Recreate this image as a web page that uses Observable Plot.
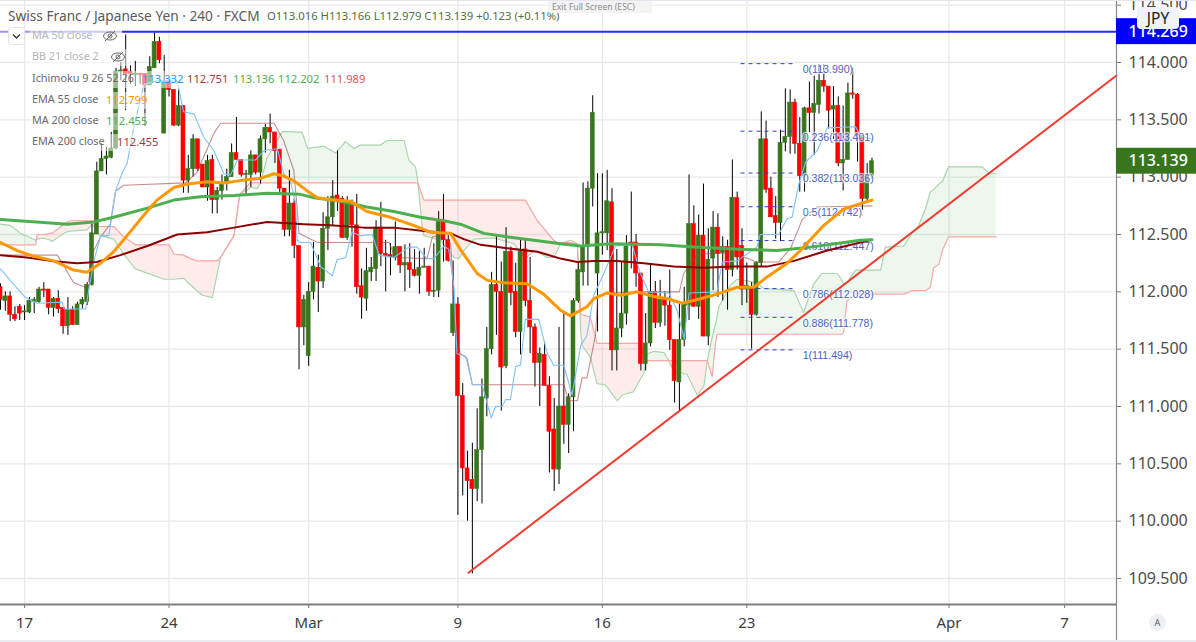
<!DOCTYPE html>
<html><head><meta charset="utf-8">
<script src="https://cdn.jsdelivr.net/npm/d3@7"></script>
<script src="https://cdn.jsdelivr.net/npm/@observablehq/plot@0.6"></script>
<style>
html,body{margin:0;padding:0;background:#fff;overflow:hidden}
#wrap{position:relative;width:1196px;height:642px;font-family:"Noto Sans",sans-serif}
#wrap svg{display:block}
.o{position:absolute;white-space:nowrap;line-height:1}
</style></head><body><div id="wrap"><div id="chart"></div></div>
<script>
// candles, one per 4 hours, indexed from the left edge of the picture
const opens=[112.04,111.92,111.96,111.80,111.87,111.82,111.82,111.91,111.91,112.02,
112.02,111.86,111.94,111.86,111.70,111.84,111.71,111.89,111.91,112.06,
112.50,113.05,113.16,113.17,113.25,113.92,113.94,113.92,113.89,113.90,
113.90,113.80,113.95,114.18,113.38,113.84,113.76,113.45,113.62,112.97,
113.07,113.33,113.11,112.91,113.15,112.80,112.88,112.94,113.00,113.21,
113.15,113.02,113.02,113.19,113.04,113.33,113.43,113.39,113.24,112.90,
112.54,112.77,112.40,111.69,111.44,112.00,112.21,112.09,112.55,112.65,
112.84,112.81,112.47,112.76,112.58,112.05,111.94,112.17,112.20,112.56,
112.33,112.32,112.30,112.39,112.23,112.25,112.19,112.14,112.21,112.22,
112.00,112.01,112.61,112.45,111.64,111.89,111.09,110.46,110.36,110.28,
110.62,111.07,111.50,112.06,112.00,111.35,112.35,112.00,111.65,112.37,
111.92,111.69,111.38,111.45,111.18,110.80,110.45,111.00,110.84,111.08,
111.92,112.17,112.39,112.90,112.16,112.51,112.51,112.78,111.49,111.68,
111.81,112.43,112.43,112.16,111.37,111.55,112.00,111.73,111.93,111.88,
111.58,111.21,111.58,111.88,112.59,111.87,112.49,111.61,112.29,112.56,
112.34,112.39,112.19,112.82,112.40,112.02,112.04,111.80,112.25,113.33,
112.90,112.66,112.60,113.30,113.35,113.65,113.29,113.01,113.60,113.56,
113.63,113.84,113.79,113.59,113.62,113.12,113.15,113.73,113.72,113.36,
112.81,113.016];
const closes=[111.93,111.96,111.80,111.76,111.81,111.83,111.92,111.93,112.02,112.01,
111.86,111.94,111.85,111.70,111.84,111.71,111.89,111.93,112.06,112.51,
113.05,113.16,113.18,113.25,113.92,113.93,113.90,113.90,113.90,113.89,
113.80,113.96,114.18,114.02,113.84,113.76,113.45,113.62,112.97,113.07,
113.33,113.07,112.91,113.14,112.80,112.88,112.94,113.00,113.21,113.15,
113.02,113.03,113.19,113.04,113.33,113.43,113.39,113.23,112.90,112.54,
112.77,112.40,111.69,111.93,112.00,112.22,112.09,112.55,112.65,112.83,
112.81,112.47,112.78,112.58,112.04,111.95,112.18,112.21,112.56,112.33,
112.31,112.30,112.39,112.23,112.25,112.19,112.14,112.21,112.22,112.00,
112.01,112.61,112.45,112.27,111.89,111.09,110.46,110.35,110.28,110.62,
111.08,111.50,112.06,112.00,111.34,112.35,111.99,111.65,112.35,111.92,
111.69,111.38,111.46,111.18,110.78,110.45,111.00,110.84,111.08,111.92,
112.19,112.39,112.90,113.56,112.51,112.52,112.79,111.49,111.68,111.81,
112.41,112.42,112.16,111.37,111.55,112.00,111.73,111.93,111.88,111.58,
111.22,111.58,111.89,112.59,111.87,112.49,111.61,112.28,112.56,112.33,
112.39,112.19,112.82,112.30,112.02,112.05,111.80,112.25,113.33,112.89,
112.65,112.60,113.30,113.35,113.65,113.29,113.01,113.60,113.56,113.64,
113.84,113.79,113.58,113.62,113.12,113.15,113.73,113.72,113.36,112.81,
113.02,113.139];
const highs=[112.07,112.00,112.00,111.87,111.89,111.88,111.95,111.95,112.04,112.08,
112.02,111.95,112.01,111.86,111.95,111.87,111.91,111.95,112.08,112.59,
113.13,113.29,113.26,113.39,113.95,114.00,114.24,113.97,114.01,113.90,
113.90,114.05,114.27,114.22,114.06,113.84,113.76,113.76,113.62,113.19,
113.37,113.33,113.11,113.19,113.19,112.91,113.02,113.07,113.29,113.52,
113.15,113.06,113.23,113.19,113.36,113.46,113.55,113.39,113.24,112.90,
113.06,112.81,112.40,111.97,112.08,112.43,112.32,112.69,112.83,112.97,
113.23,112.83,112.83,112.80,112.85,112.20,112.38,112.30,112.62,112.78,
112.45,112.42,112.61,112.39,112.41,112.42,112.37,112.35,112.38,112.22,
112.42,112.70,112.85,112.49,112.27,111.95,111.20,110.61,110.68,110.98,
111.24,111.69,112.17,112.48,112.26,112.56,112.39,112.25,112.46,112.46,
112.30,111.72,111.51,111.56,111.26,111.07,111.69,111.82,111.11,111.94,
112.25,112.95,112.96,113.71,113.03,113.03,113.06,112.90,112.37,112.26,
112.49,112.87,112.50,112.16,111.81,112.24,112.09,112.10,112.00,112.19,
111.58,111.91,112.04,113.02,112.75,112.67,112.94,112.55,112.70,112.68,
112.48,112.45,113.15,112.87,112.55,112.25,112.08,112.26,113.57,113.49,
113.00,112.83,113.41,113.77,113.76,113.68,113.52,113.61,113.83,113.88,
113.98,113.98,113.79,113.79,113.70,113.62,113.82,113.95,113.73,113.36,
113.12,113.166];
const lows=[111.84,111.83,111.74,111.74,111.75,111.75,111.81,111.81,111.90,111.95,
111.80,111.78,111.81,111.63,111.62,111.71,111.71,111.85,111.88,112.05,
112.50,113.05,113.02,113.16,113.24,113.84,113.58,113.81,113.79,113.81,
113.44,113.80,113.95,113.99,113.38,113.70,113.44,113.44,112.86,112.86,
113.00,113.05,112.91,112.79,112.68,112.68,112.80,112.88,113.00,113.15,
113.00,112.83,112.91,113.02,112.94,113.21,113.29,113.12,112.84,112.48,
112.48,112.29,111.32,111.53,111.35,111.93,111.82,112.03,112.36,112.58,
112.70,112.47,112.45,112.39,111.98,111.76,111.83,112.09,112.09,112.22,
112.00,112.14,112.27,112.16,112.00,112.03,112.13,111.98,112.21,111.96,
111.95,111.95,112.26,112.26,111.61,110.05,110.22,110.00,109.54,110.17,
110.15,110.91,111.45,111.62,110.96,111.33,111.88,111.60,111.45,111.87,
111.46,111.17,111.00,111.18,110.42,110.26,110.32,110.67,110.59,110.78,
111.90,112.05,112.05,112.74,111.65,112.32,112.36,111.31,111.31,111.60,
111.71,112.20,112.04,111.31,111.31,111.52,111.68,111.69,111.70,111.49,
111.03,110.96,111.52,111.75,111.87,111.76,111.61,111.53,112.01,111.95,
111.92,111.84,112.13,112.19,111.88,111.90,111.50,111.79,112.22,112.86,
112.65,112.46,112.44,113.22,113.20,113.20,112.87,112.87,113.39,113.19,
113.55,113.74,113.42,113.33,113.09,112.88,113.15,113.68,113.13,112.71,
112.78,112.979];

// MA 200
const ma200K=[0,10.4,13.8,19.4,23.5,30.5,36,41.5,48.5,55.4,62.3,65.1,70.6,76.1,81.7,87.2,92.1,95.5,100.4,105.2,110.8,116.3,120.5,126.7,137.1,144,154.4,161.3,168.2,178.6,181];
const ma200P=[112.63,112.60,112.59,112.61,112.65,112.73,112.80,112.83,112.84,112.86,112.85,112.82,112.79,112.74,112.70,112.65,112.62,112.59,112.51,112.48,112.45,112.42,112.40,112.42,112.41,112.39,112.37,112.36,112.39,112.45,112.455];
// EMA 200
const ema200K=[0,5.5,10.4,15.9,20,24.9,30.5,36.7,42.9,48.5,55.4,63,68.5,75.5,81.7,87.9,93.5,96.2,99.7,105.2,111.5,116.3,119.8,123.2,128.1,133.6,139.8,146,152.3,159.2,164.8,171.7,178.6,181];
const ema200P=[112.32,112.30,112.27,112.25,112.26,112.32,112.40,112.50,112.52,112.56,112.61,112.59,112.58,112.56,112.56,112.53,112.51,112.46,112.41,112.38,112.35,112.29,112.26,112.27,112.27,112.25,112.22,112.21,112.22,112.22,112.27,112.36,112.43,112.455];
// EMA 55
const ema55K=[0,3.5,6.9,11.1,15.2,17.9,20.8,23.5,26.3,29.8,32.5,36,38.8,42.9,46.4,49.8,54,56.8,58.8,60.9,63.7,65.8,69.2,72.7,76.1,81,85.8,89.3,93.5,95.5,99,101.1,104.5,109.4,112.8,116.3,118.4,121.8,123.2,126,128.8,132.2,135.7,138.5,141.6,145.4,148.8,153,156.5,159.2,163.4,166.1,171,175.1,178.6,181];
const ema55P=[112.43,112.36,112.31,112.27,112.19,112.17,112.25,112.35,112.49,112.67,112.80,112.91,112.94,112.96,112.95,112.97,112.99,113.03,113.01,112.97,112.88,112.82,112.80,112.79,112.70,112.65,112.58,112.52,112.51,112.37,112.16,112.10,112.08,112.07,111.98,111.84,111.79,111.87,111.94,111.99,111.97,112.00,111.96,111.94,111.90,111.94,111.98,112.04,112.04,112.13,112.25,112.36,112.58,112.72,112.77,112.80];
// Ichimoku conversion line
const convK=[0,2.8,5.2,7.6,12.8,13.2,17.7,18.3,19.4,20.8,22.5,23.9,25.3,26.3,27.7,29.8,32.5,36.7,38,40.2,42.2,44.3,46.4,47.8,49.2,53,54.7,57.5,58.8,60.2,61.3,61.6,62.3,64.4,66.5,68.9,69.9,71.7,73,74.8,77.2,78.6,81.7,84.8,86.5,88.6,90,92.1,93.1,94.2,94.8,96.6,98,100,101.9,102.8,104.2,104.9,105.9,107,108,109,111.8,113.5,114.9,117,118.7,120.5,121.8,123.2,125.3,127.7,131.2,132.9,134.6,138.8,140.5,142,143,148.8,149.9,153,157.1,157.8,161.6,163.4,164.4,165.8,167.2,169.6,171.7,177.6,178.6,181];
const convP=[112.20,112.06,111.95,111.90,111.91,111.85,111.85,112.01,112.27,112.49,112.49,112.88,113.04,113.12,113.44,113.81,113.84,113.84,113.57,113.55,113.35,113.23,113.03,113.02,113.15,113.15,113.23,113.25,113.03,112.97,112.77,112.45,112.43,112.43,112.22,112.14,112.28,112.30,112.52,112.49,112.50,112.32,112.30,112.39,112.39,112.29,112.29,112.40,112.37,112.04,111.46,111.44,111.19,111.19,110.90,111.00,111.00,111.06,111.06,111.35,111.36,111.76,111.76,111.47,111.36,111.36,111.10,111.53,111.62,111.97,112.16,112.40,112.41,112.16,112.00,111.99,111.84,111.59,111.99,112.00,112.26,112.27,112.39,112.50,112.50,112.64,112.65,112.94,113.13,113.23,113.43,113.44,113.36,113.33];
// Ichimoku base line
const baseK=[0,11.8,15.2,17.7,18.3,19.4,20.8,22.8,23.9,25.6,38.4,40.8,44.3,45.7,56.8,58.8,60.9,61.6,62,65.8,80.7,82,88.6,89.7,91.7,93.5,94.5,95.5,96.9,98,117,118,119.8,120.8,121.8,123.6,124,126,133.6,141,141.9,143.5,145,152.3,157,161.6,164.1,166.5,169.6,181];
const baseP=[112.32,112.32,112.08,112.04,112.10,112.36,112.48,112.59,112.88,112.93,112.95,113.04,113.38,113.47,113.47,113.32,113.06,112.74,112.51,112.43,112.43,112.30,112.29,112.48,112.49,112.42,111.63,111.46,111.42,111.19,111.19,111.05,111.05,111.25,111.25,111.63,111.95,111.99,112.00,112.00,112.16,112.26,112.33,112.34,112.26,112.26,112.38,112.63,112.74,112.75];
// Ichimoku cloud, both spans read at the same positions
const cloudK=[0,2,4.2,7.3,7.5,7.6,9,10.4,10.7,13.5,
14.5,18,19,19.4,20.4,20.8,23.5,25.6,28,34,
35,36,38,39.5,40.8,41.9,44,45,45.7,48.5,
49.7,51.9,53.3,54,55.4,58.2,58.8,62.65,63.8,67.1,
69.6,71.65,73.4,74.8,78.9,80.3,83.8,84.8,86.2,86.7,
87.6,87.9,91.4,94.1,95.2,96.2,98.3,102.5,104.2,106.6,
109,110.8,111.5,113.5,114.9,115.6,116.3,118.4,119.4,119.8,
120.5,120.8,122.5,123.9,125.6,128.1,129.1,131.5,132.9,133.6,
134,134.3,135.7,137.8,138.8,139.8,142.6,144.7,146.1,146.8,
147.8,148.5,148.8,149.2,151.6,153,157.1,158.5,164.8,166.8,
168.9,170.6,173.8,174.8,175.1,175.8,177.6,182.8,183.8,187.6,
189.3,190.7,192.1,193.1,193.8,194.9,195.6,196.9,203.9,205.2,206.8];
const spanA=[112.59,112.58,112.51,112.45,112.46,112.46,112.47,112.45,112.44,112.52,
112.53,112.54,112.59,112.57,112.50,112.49,112.46,112.33,112.20,112.11,
112.11,112.11,112.12,112.06,112.01,111.97,111.95,112.16,112.30,112.49,
112.85,112.91,112.90,112.95,113.17,113.38,113.40,113.39,113.25,113.27,
113.21,113.31,113.25,113.28,113.28,113.32,113.32,113.15,113.09,112.95,
112.56,112.49,112.45,112.30,112.29,112.36,112.46,112.47,112.45,112.42,
112.29,112.36,112.35,112.30,112.30,112.36,112.42,112.45,112.43,112.42,
111.66,111.53,111.43,111.20,111.19,111.05,111.10,111.13,111.24,111.29,
111.40,111.46,111.48,111.47,111.40,111.31,111.28,111.10,111.18,111.40,
111.60,111.72,111.78,111.87,112.06,112.11,112.08,112.03,112.01,111.82,
112.07,112.16,112.16,112.10,112.07,112.08,112.19,112.19,112.39,112.40,
112.51,112.58,112.72,112.87,112.89,112.94,112.96,113.09,113.09,113.04,113.03];
const spanB=[112.41,112.41,112.41,112.41,112.46,112.50,112.50,112.51,112.51,112.60,
112.62,112.62,112.62,112.62,112.57,112.57,112.57,112.48,112.41,112.41,
112.41,112.33,112.32,112.29,112.27,112.27,112.27,112.27,112.30,112.49,
112.85,112.95,112.95,112.95,112.95,112.95,112.95,112.95,112.95,112.95,
112.95,112.95,112.95,112.95,112.95,112.95,112.95,112.95,112.95,112.95,
112.84,112.80,112.80,112.80,112.80,112.80,112.80,112.80,112.80,112.80,
112.80,112.67,112.62,112.52,112.45,112.43,112.43,112.43,112.42,112.42,
111.81,111.80,111.78,111.55,111.55,111.55,111.55,111.55,111.55,111.45,
111.40,111.40,111.40,111.40,111.40,111.40,111.40,111.40,111.40,111.40,
111.26,111.55,111.63,111.63,111.63,111.63,111.63,111.63,111.63,111.63,
111.63,111.63,111.63,111.63,111.65,111.92,111.98,111.98,111.98,111.98,
112.01,112.01,112.01,112.04,112.21,112.24,112.36,112.48,112.48,112.48,112.48];
// Fibonacci retracement
const fibLevels=["0","0.236","0.382","0.5","0.618","0.786","0.886","1"];
const fibPrices=[113.990,113.401,113.036,112.742,112.447,112.028,111.778,111.494];
const fibSpan=[153.8,164.8], fibLabelK=166.6;
// trend line and price markers
const trendK=[97.2,231.78], trendP=[109.55,113.887];
const markerPrices=[114.269,113.139], markerFills=["#0000ff","#38761d"];
// axes
const yTicks=[109.5,110,110.5,111,111.5,112,112.5,113,113.5,114,114.5];
const xTicks=[5,35,64,95,125,155,197,221];
const xLabels=["17","24","Mar","9","16","23","Apr","7"];
const xMax=231.78, yTop=114.5407, yBot=109.2734;

const GREEN="#38761d", RED="#ff0000";
const candles=d3.range(opens.length).map(k=>({k,o:opens[k],c:closes[k],h:highs[k],l:lows[k],up:closes[k]>=opens[k]}));
const cloud=cloudK.map((k,i)=>({k,a:spanA[i],b:spanB[i]}));
const line=(K,P,opt)=>Plot.line(K.map((k,i)=>[k,P[i]]),{x:d=>d[0],y:d=>d[1],...opt});

const chart=Plot.plot({
  width:1196,height:642,marginTop:0,marginBottom:38,marginLeft:0,marginRight:80,
  style:{background:"#fff",fontFamily:"Noto Sans",overflow:"visible"},
  x:{domain:[0,xMax],range:[0,1116]},
  y:{domain:[yBot,yTop],range:[604,0]},
  marks:[
    Plot.gridX(xTicks,{stroke:"#e9e9ec",strokeOpacity:1,strokeWidth:1.3}),
    Plot.gridY(yTicks,{stroke:"#e9e9ec",strokeOpacity:1,strokeWidth:1.3}),
    Plot.axisY(yTicks,{anchor:"right",label:null,tickSize:4,tickPadding:8,stroke:"#787878",fill:"#4d4d4d",fontSize:16,tickFormat:d=>d.toFixed(3)}),
    Plot.axisX(xTicks,{anchor:"bottom",label:null,tickSize:4,tickPadding:9,stroke:"#787878",fill:"#3c3c3c",fontSize:15,tickFormat:d=>xLabels[xTicks.indexOf(d)]}),
    // cloud
    Plot.areaY(cloud,{x:"k",y1:"b",y2:d=>Math.max(d.a,d.b),fill:"#4caf50",fillOpacity:.1}),
    Plot.areaY(cloud,{x:"k",y1:"b",y2:d=>Math.min(d.a,d.b),fill:"#f44336",fillOpacity:.1}),
    line(cloudK,spanA,{stroke:"#a9d6ab",strokeWidth:1.2}),
    line(cloudK,spanB,{stroke:"#f7a5a5",strokeWidth:1.2}),
    // candles
    Plot.ruleX(candles,{x:"k",y1:"l",y2:"h",stroke:"#000",strokeWidth:1}),
    Plot.rect(candles,{x1:d=>d.k-.41,x2:d=>d.k+.41,y1:"o",y2:"c",fill:d=>d.up?GREEN:RED,stroke:d=>d.up?GREEN:RED,strokeWidth:.6}),
    // ichimoku lines
    line(baseK,baseP,{stroke:"#a04444",strokeOpacity:.6,strokeWidth:1.1}),
    line(convK,convP,{stroke:"#7cc2f8",strokeWidth:1.1}),
    // fibonacci
    Plot.ruleY(fibPrices,{x1:fibSpan[0],x2:fibSpan[1],stroke:"#2a3fd0",strokeWidth:1,strokeDasharray:"4,4"}),
    Plot.text(fibLevels,{x:fibLabelK,y:(d,i)=>fibPrices[i],text:(d,i)=>`${d}(${fibPrices[i].toFixed(3)})`,dy:6,textAnchor:"start",fontFamily:"Liberation Sans",fontSize:10.6,fill:"#4a63c4",stroke:"rgba(255,255,255,.65)",strokeWidth:2.5}),
    // moving averages
    line(ema200K,ema200P,{stroke:"#8b0000",strokeWidth:2}),
    line(ma200K,ma200P,{stroke:"#4caf50",strokeWidth:3}),
    line(ema55K,ema55P,{stroke:"#ff9800",strokeWidth:3}),
    // trend line and horizontal level
    line(trendK,trendP,{stroke:"#f23b30",strokeWidth:2}),
    Plot.ruleY([markerPrices[0]],{x1:0,x2:xMax,stroke:"#2a2aff",strokeWidth:2}),
    // axis lines
    Plot.ruleY([yBot],{x1:0,x2:xMax,stroke:"#7f7f7f",strokeWidth:2}),
    Plot.ruleX([xMax],{y1:yTop,y2:yBot-0.33,stroke:"#8a8a8a",strokeWidth:1.2}),
    // price markers on the scale
    Plot.rect(markerPrices,{x1:xMax,x2:xMax+17,y1:d=>d-.113,y2:d=>d+.113,fill:(d,i)=>markerFills[i]}),
    Plot.text(markerPrices,{x:xMax+2.5,y:d=>d,text:d=>d.toFixed(3),textAnchor:"start",fill:"#fff",fontSize:16,fontWeight:500})
  ]
});
const wrap=document.getElementById("wrap");
document.getElementById("chart").append(chart);

function put(txt,x,y,css){const e=document.createElement("div");e.className="o";e.textContent=txt;e.style.left=x+"px";e.style.top=y+"px";e.style.cssText+=";"+css;wrap.append(e);return e;}
function box(x,y,w,h,css){const e=document.createElement("div");e.className="o";e.style.cssText+=`;left:${x}px;top:${y}px;width:${w}px;height:${h}px;${css}`;wrap.append(e);return e;}

// window edges
box(0,0,1196,1,"background:#e3e6ee");
box(0,640,1196,2,"background:#e9ecf2");
// header
put("Swiss Franc / Japanese Yen · 240 · FXCM",8,8.5,"font-size:13.7px;color:#5a5a5a");
put("O113.016 H113.166 L112.979 C113.139 +0.123 (+0.11%)",267,10,"font-size:11.3px;color:#4e6f43");
box(548,1,104,12,"background:#f3f3f3;border-radius:2px");
put("Exit Full Screen (ESC)",552,3,"font-size:8.6px;color:#8c8c8c");
// legend rows
box(0,30,122,4,"background:rgba(255,255,255,.5)");
const rows=[["MA 50 close",36,"#b5b5b5",[]],["BB 21 close 2",57,"#b5b5b5",[]],
 ["Ichimoku 9 26 52 26",78.5,"#6a6a6a",[["113.332",142,"#2196f3"],["112.751",187,"#a33a3a"],["113.136",233,"#4caf50"],["112.202",278,"#4caf50"],["111.989",324,"#ef5350"]]],
 ["EMA 55 close",100,"#6a6a6a",[["112.799",106,"#ff9800"]]],
 ["MA 200 close",121,"#6a6a6a",[["112.455",106,"#4caf50"]]],
 ["EMA 200 close",142,"#6a6a6a",[["112.455",117,"#a33a3a"]]]];
const rowW=[92,100,340,130,130,140];
rows.forEach((r,i)=>{box(30,r[1]-8,rowW[i],17,"background:rgba(255,255,255,.5)");
 put(r[0],32,r[1]-6,`font-size:10.8px;color:${r[2]}`);
 r[3].forEach(v=>put(v[0],v[1],r[1]-6,`font-size:11.2px;color:${v[2]}`));});
// hidden-series eyes
[[109,36],[117,57]].forEach(([x,y])=>{const e=document.createElementNS("http://www.w3.org/2000/svg","svg");
 e.setAttribute("width",16);e.setAttribute("height",14);e.style.cssText=`position:absolute;left:${x-7}px;top:${y-7}px`;
 e.innerHTML='<ellipse cx="8" cy="7" rx="6.5" ry="4" fill="none" stroke="#666" stroke-width="1"/><circle cx="8" cy="7" r="2" fill="none" stroke="#666"/><path d="M3 12L13 2" stroke="#666"/>';wrap.append(e);});
// collapse button
const b=box(8,27,17,18,"background:#fff;border:1px solid #e0e3eb;border-radius:3px;box-sizing:border-box");
b.innerHTML='<svg width="15" height="16" style="display:block"><path d="M4 6.5L7.5 10L11 6.5" fill="none" stroke="#333" stroke-width="1.3"/></svg>';
// JPY badge
const j=box(1137,7,42,22,"background:#f0f3fa;border-radius:4px;color:#222;font-size:15.5px;text-align:center;line-height:22px");
j.textContent="JPY";
// auto-scale button
const a=box(1149,614,17,17,"background:#eef0f6;border-radius:50%;color:#555;font-size:9px;text-align:center;line-height:17px");
a.textContent="A";
</script></body></html>
